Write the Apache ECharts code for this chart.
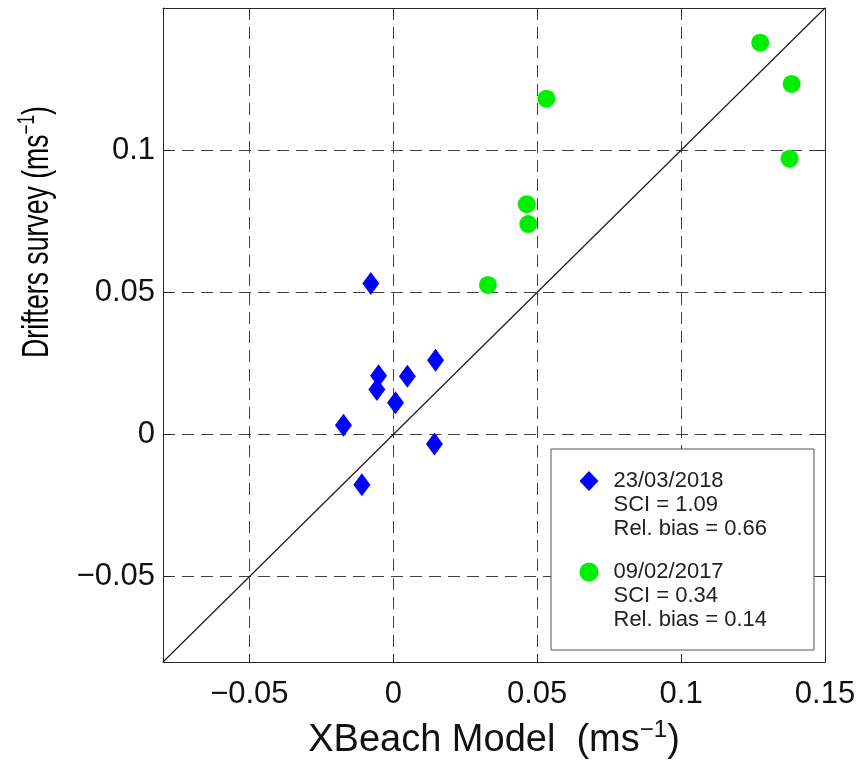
<!DOCTYPE html>
<html>
<head>
<meta charset="utf-8">
<script src="https://cdn.jsdelivr.net/npm/echarts@6/dist/echarts.min.js"></script>
<style>
  html, body { margin: 0; padding: 0; background: #fff; }
  #chart { width: 864px; height: 762px; }
</style>
</head>
<body>
<div id="chart"></div>
<script>
// ---- data ----
const seriesNames = ['23/03/2018', '09/02/2017'];
const blueX = [-0.0078, -0.0051, -0.0057, 0.0049, 0.0147, 0.0008, -0.0173, 0.0143, -0.0109];
const blueY = [0.0531, 0.0207, 0.0158, 0.0205, 0.0261, 0.0112, 0.0033, -0.0033, -0.0177];
const greenX = [0.1275, 0.1384, 0.1377, 0.0532, 0.0464, 0.0469, 0.0329];
const greenY = [0.1378, 0.1233, 0.0970, 0.1181, 0.0810, 0.0740, 0.0526];
const sciText = ['SCI = 1.09', 'SCI = 0.34'];
const biasText = ['Rel. bias = 0.66', 'Rel. bias = 0.14'];
const diagX = [-0.08, 0.15];
const diagY = [-0.08, 0.15];
const axisMin = -0.08, axisMax = 0.15;
const xTickLabels = [-0.05, 0, 0.05, 0.1, 0.15];
const yTickLabels = [-0.05, 0, 0.05, 0.1];

const FONT = 'Liberation Sans';
const pairs = (xs, ys) => xs.map((x, i) => [x, ys[i]]);
const fmt = (list) => (v) => {
  const hit = list.find(t => Math.abs(t - v) < 1e-9);
  if (hit === undefined) return '';
  return (hit === 0 ? '0' : String(hit)).replace('-', '\u2212');
};

const chart = echarts.init(document.getElementById('chart'), null, { renderer: 'canvas' });

const xTitleRich = {
  a: { fontSize: 38, lineHeight: 46, fontFamily: FONT, color: '#111' },
  s: { fontSize: 24, lineHeight: 26, fontFamily: FONT, color: '#111', verticalAlign: 'top' }
};
const yTitleRich = {
  a: { fontSize: 36, lineHeight: 44, fontFamily: FONT, color: '#111' },
  s: { fontSize: 23, lineHeight: 26, fontFamily: FONT, color: '#111', verticalAlign: 'top' }
};

const baseAxis = {
  type: 'value', min: axisMin, max: axisMax, splitNumber: 5,
  axisLine: { show: true, onZero: false, lineStyle: { color: '#262626', width: 1 } },
  axisTick: { show: true, inside: true, length: 8, lineStyle: { color: '#262626', width: 1 } }
};

const option = {
  backgroundColor: '#ffffff',
  animation: false,
  grid: { left: 163, right: 39, top: 8, bottom: 100, containLabel: false, outerBoundsMode: 'none' },
  xAxis: [
    Object.assign({}, baseAxis, {
      position: 'bottom',
      axisLabel: { show: true, margin: 17, fontSize: 31, fontFamily: FONT, color: '#111', formatter: fmt(xTickLabels), showMinLabel: true, showMaxLabel: true, hideOverlap: false },
      splitLine: { show: true, lineStyle: { type: [12, 7], color: '#404040', width: 1 } },
      name: '{a|XBeach Model  (ms}{s|\u22121}{a|)}',
      nameLocation: 'middle', nameGap: 56,
      nameTextStyle: { rich: xTitleRich }
    }),
    Object.assign({}, baseAxis, {
      position: 'top',
      axisLabel: { show: false },
      splitLine: { show: false }
    })
  ],
  yAxis: [
    Object.assign({}, baseAxis, {
      position: 'left',
      axisLabel: { show: true, margin: 8, fontSize: 31, fontFamily: FONT, color: '#111', formatter: fmt(yTickLabels), showMinLabel: true, showMaxLabel: true, hideOverlap: false },
      splitLine: { show: true, lineStyle: { type: [12, 7], color: '#404040', width: 1 } }
    }),
    Object.assign({}, baseAxis, {
      position: 'right',
      axisLabel: { show: false },
      splitLine: { show: false }
    })
  ],
  legend: {
    show: true,
    orient: 'vertical',
    left: 551, top: 449,
    data: seriesNames,
    itemWidth: 19, itemHeight: 20,
    itemGap: -29,
    padding: [-28, 47, 18, 28.5],
    backgroundColor: '#ffffff',
    borderColor: '#555555', borderWidth: 1,
    selectedMode: false,
    textStyle: { fontSize: 22, lineHeight: 24, fontFamily: FONT, color: '#222',
      rich: {
        e: { fontSize: 22, lineHeight: 24, fontFamily: FONT },
        t: { fontSize: 22, lineHeight: 24, fontFamily: FONT, color: '#222', padding: [0, 0, 0, 10] }
      }
    },
    formatter: function (name) {
      const i = seriesNames.indexOf(name);
      return '{e| }\n{e| }\n{t|' + name + '}\n{t|' + sciText[i] + '}\n{t|' + biasText[i] + '}';
    }
  },
  graphic: [{
    type: 'text', x: 38, y: 232, rotation: Math.PI / 2, scaleX: 0.74, scaleY: 1,
    style: {
      text: '{a|Drifters survey (ms}{s|\u22121}{a|)}',
      rich: yTitleRich,
      align: 'center', verticalAlign: 'middle'
    }
  }],
  series: [
    {
      name: 'diag', type: 'line', xAxisIndex: 0, yAxisIndex: 0,
      data: pairs(diagX, diagY), showSymbol: false, symbol: 'none', silent: true,
      lineStyle: { color: '#1a1a1a', width: 1.2 }, z: 1
    },
    {
      name: seriesNames[0], type: 'scatter', xAxisIndex: 0, yAxisIndex: 0,
      data: pairs(blueX, blueY), symbol: 'diamond', symbolSize: [17, 23],
      itemStyle: { color: '#0000FF', opacity: 1 }, z: 3
    },
    {
      name: seriesNames[1], type: 'scatter', xAxisIndex: 0, yAxisIndex: 0,
      data: pairs(greenX, greenY), symbol: 'circle', symbolSize: 18,
      itemStyle: { color: '#00EE00', opacity: 1 }, z: 3
    }
  ]
};
chart.setOption(option);
</script>
</body>
</html>
